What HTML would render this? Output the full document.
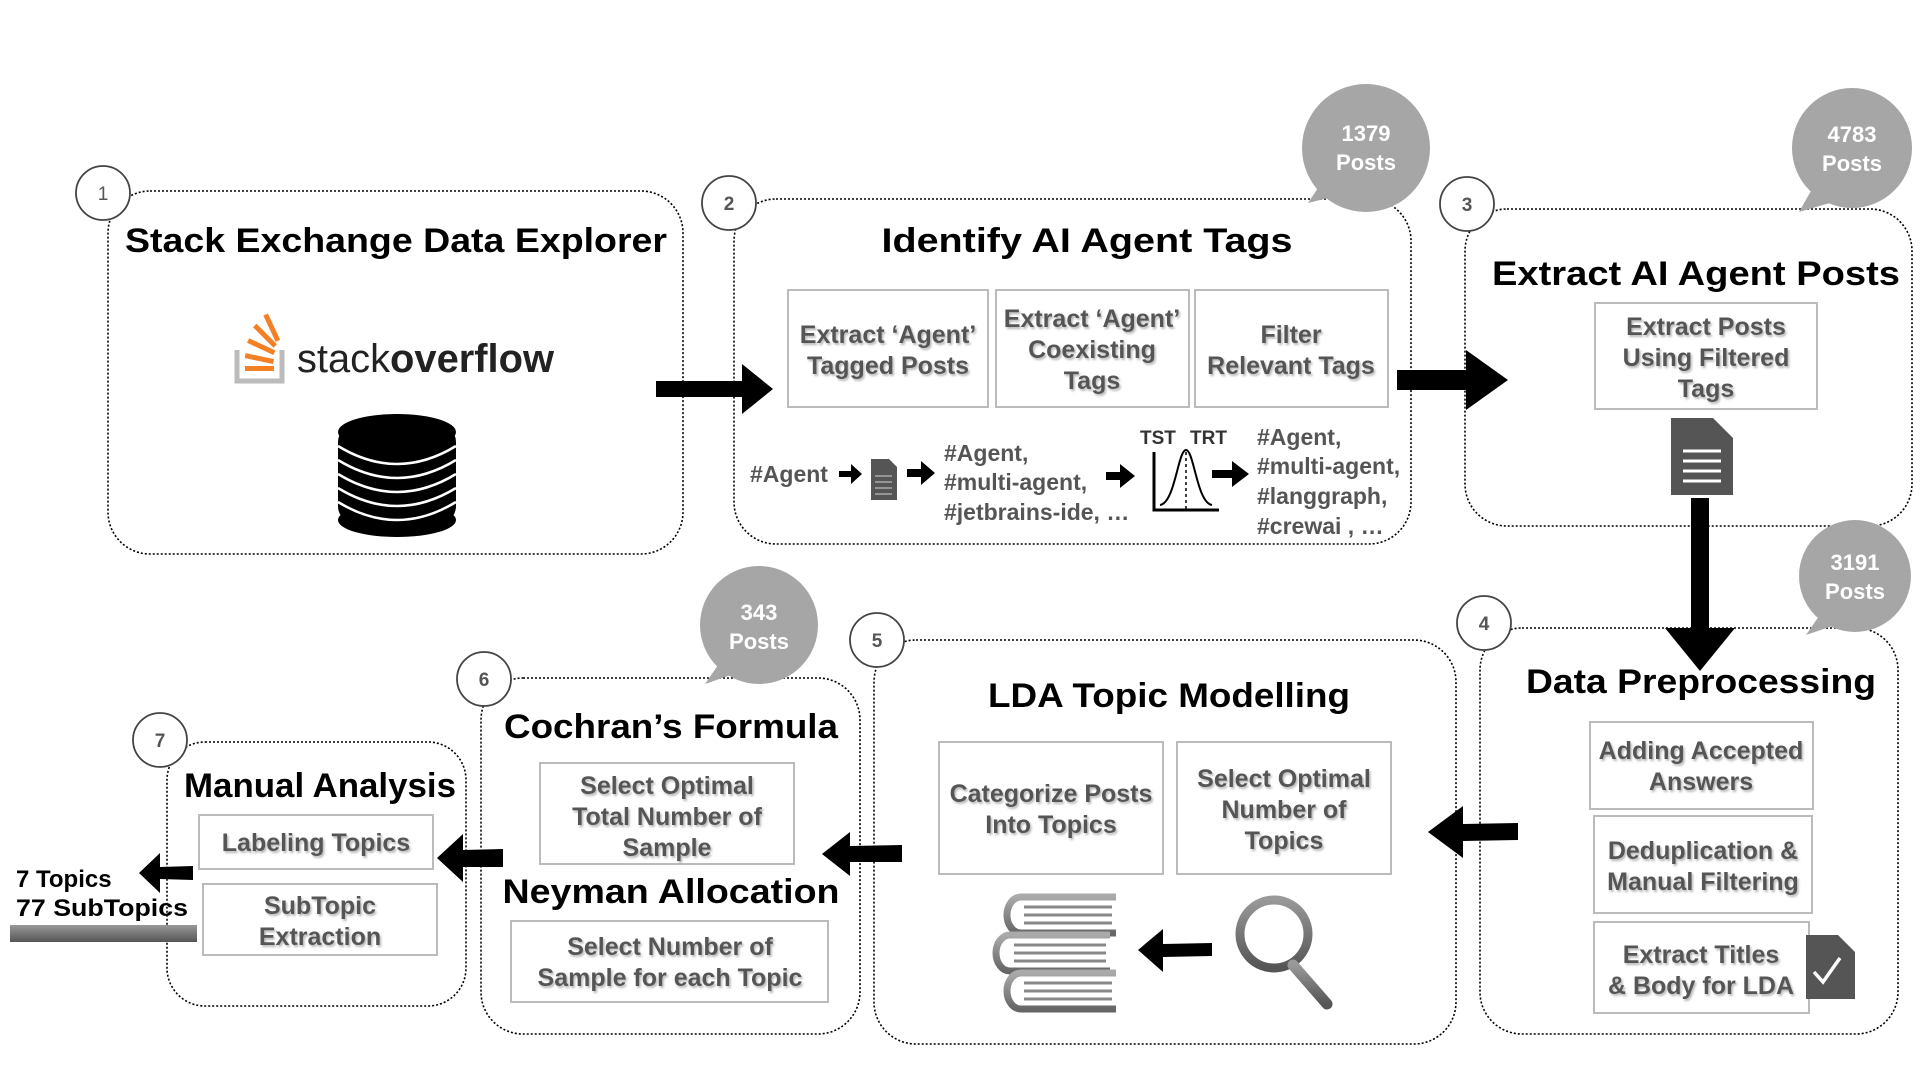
<!DOCTYPE html>
<html><head><meta charset="utf-8"><style>
html,body{margin:0;padding:0;background:#fff;}
svg{display:block}
.t{font-family:"Liberation Sans",sans-serif;font-weight:bold;fill:#000;font-size:34px;text-anchor:middle}
.s{font-family:"Liberation Sans",sans-serif;font-weight:bold;fill:#555;font-size:25px;text-anchor:middle;filter:url(#sh)}
.g{font-family:"Liberation Sans",sans-serif;font-weight:bold;fill:#555;font-size:23px}
.n{font-family:"Liberation Sans",sans-serif;font-weight:bold;fill:#555;font-size:19px;text-anchor:middle}
.b{font-family:"Liberation Sans",sans-serif;font-weight:bold;fill:#fff;font-size:22px;text-anchor:middle}
.box{fill:none;stroke:#000;stroke-width:1.6;stroke-dasharray:2 2}
.sb{fill:#fff;stroke:#bbb;stroke-width:2}
.c{fill:#fff;stroke:#444;stroke-width:1.8}
</style></head><body>
<svg width="1920" height="1080" viewBox="0 0 1920 1080" xmlns="http://www.w3.org/2000/svg">
<defs>
<filter id="sh" x="-10%" y="-10%" width="130%" height="140%"><feDropShadow dx="1.5" dy="2" stdDeviation="1" flood-color="#999" flood-opacity="0.7"/></filter>
<linearGradient id="gb" x1="0" y1="0" x2="0" y2="1"><stop offset="0" stop-color="#aaa"/><stop offset="1" stop-color="#666"/></linearGradient>
<linearGradient id="gm" x1="0" y1="0" x2="0" y2="1"><stop offset="0" stop-color="#999"/><stop offset="1" stop-color="#555"/></linearGradient>
</defs>

<!-- Box 1 -->
<rect class="box" x="108" y="191" width="575" height="363" rx="42"/>
<circle class="c" cx="103" cy="193" r="27"/><text class="n" x="103" y="200" style="font-weight:normal">1</text>
<text class="t" x="396" y="252" textLength="542" lengthAdjust="spacingAndGlyphs">Stack Exchange Data Explorer</text>
<g>
<path d="M237 350 v31 h45 v-31" fill="none" stroke="#bcbbbb" stroke-width="5"/>
<rect x="245" y="366" width="29" height="5" fill="#f48024"/>
<rect x="245" y="356" width="29" height="5" fill="#f48024" transform="rotate(12 259 358)"/>
<rect x="247" y="344" width="29" height="5" fill="#f48024" transform="rotate(25 261 346)"/>
<rect x="251" y="333" width="29" height="5" fill="#f48024" transform="rotate(45 265 335)"/>
<rect x="258" y="325" width="29" height="5" fill="#f48024" transform="rotate(65 272 327)"/>
<text x="297" y="372" font-family="Liberation Sans,sans-serif" font-size="40" fill="#222" textLength="257" lengthAdjust="spacingAndGlyphs">stack<tspan font-weight="bold">overflow</tspan></text>
</g>
<g>
<rect x="338" y="424" width="118" height="100" rx="18" fill="#000"/>
<ellipse cx="397" cy="432" rx="59" ry="18" fill="#000"/>
<ellipse cx="397" cy="520" rx="59" ry="17" fill="#000"/>
<g fill="none" stroke="#fff" stroke-width="2.5">
<path d="M338 446 q59 36 118 0"/><path d="M338 460 q59 36 118 0"/><path d="M338 474 q59 36 118 0"/><path d="M338 488 q59 36 118 0"/><path d="M338 502 q59 36 118 0"/>
</g>
</g>
<polygon points="656,381 742,381 742,364 773,389 742,414 742,397 656,397" fill="#000"/>

<!-- Box 2 -->
<rect class="box" x="734" y="199" width="677" height="345" rx="42"/>
<circle class="c" cx="729" cy="203" r="27"/><text class="n" x="729" y="210">2</text>
<text class="t" x="1087" y="252" textLength="411" lengthAdjust="spacingAndGlyphs">Identify AI Agent Tags</text>
<rect class="sb" x="788" y="290" width="200" height="117"/>
<rect class="sb" x="996" y="290" width="193" height="117"/>
<rect class="sb" x="1195" y="290" width="193" height="117"/>
<text class="s" x="888" y="343">Extract ‘Agent’</text><text class="s" x="888" y="374">Tagged Posts</text>
<text class="s" x="1092" y="327">Extract ‘Agent’</text><text class="s" x="1092" y="358">Coexisting</text><text class="s" x="1092" y="389">Tags</text>
<text class="s" x="1291" y="343">Filter</text><text class="s" x="1291" y="374">Relevant Tags</text>
<text class="g" x="750" y="482">#Agent</text>
<polygon points="839,471 851,471 851,464 862,474 851,484 851,477 839,477" fill="#000"/>
<path d="M871 459 h18 l8 8 v33 h-26z" fill="#555"/><g stroke="#aaa" stroke-width="1.5"><line x1="875" y1="476" x2="892" y2="476"/><line x1="875" y1="482" x2="892" y2="482"/><line x1="875" y1="488" x2="892" y2="488"/><line x1="875" y1="494" x2="892" y2="494"/></g>
<polygon points="907,469 921,469 921,461 935,473 921,485 921,477 907,477" fill="#000"/>
<text class="g" x="944" y="461">#Agent,</text>
<text class="g" x="944" y="490">#multi-agent,</text>
<text class="g" x="944" y="520">#jetbrains-ide, …</text>
<polygon points="1106,472 1120,472 1120,464 1135,476 1120,488 1120,480 1106,480" fill="#000"/>
<text class="g" x="1140" y="444" style="font-size:19px;fill:#333">TST</text><text class="g" x="1190" y="444" style="font-size:19px;fill:#333">TRT</text>
<path d="M1154 452 v58 h65" fill="none" stroke="#000" stroke-width="3"/>
<path d="M1160 505 c15 -2 18 -55 26 -55 c8 0 11 53 26 55" fill="none" stroke="#000" stroke-width="2"/>
<line x1="1186" y1="452" x2="1186" y2="509" stroke="#000" stroke-width="1.5" stroke-dasharray="3 3"/>
<polygon points="1212,470 1232,470 1232,461 1249,474 1232,487 1232,478 1212,478" fill="#000"/>
<text class="g" x="1257" y="445">#Agent,</text>
<text class="g" x="1257" y="474">#multi-agent,</text>
<text class="g" x="1257" y="504">#langgraph,</text>
<text class="g" x="1257" y="534">#crewai , …</text>
<polygon points="1330,170 1360,190 1308,203" fill="#a6a6a6"/>
<circle cx="1366" cy="148" r="64" fill="#a6a6a6"/>
<text class="b" x="1366" y="141">1379</text><text class="b" x="1366" y="170">Posts</text>
<polygon points="1397,370 1466,370 1466,350 1508,380 1466,410 1466,390 1397,390" fill="#000"/>

<!-- Box 3 -->
<rect class="box" x="1465" y="209" width="447" height="317" rx="42"/>
<circle class="c" cx="1467" cy="204" r="27"/><text class="n" x="1467" y="211">3</text>
<text class="t" x="1696" y="285" textLength="408" lengthAdjust="spacingAndGlyphs">Extract AI Agent Posts</text>
<rect class="sb" x="1595" y="303" width="222" height="106"/>
<text class="s" x="1706" y="335">Extract Posts</text><text class="s" x="1706" y="366">Using Filtered</text><text class="s" x="1706" y="397">Tags</text>
<path d="M1671 418 h42 l20 20 v57 h-62z" fill="#555"/><g stroke="#fff" stroke-width="3"><line x1="1683" y1="451" x2="1721" y2="451"/><line x1="1683" y1="461" x2="1721" y2="461"/><line x1="1683" y1="471" x2="1721" y2="471"/><line x1="1683" y1="481" x2="1721" y2="481"/></g>
<polygon points="1820,175 1840,200 1799,212" fill="#a6a6a6"/>
<circle cx="1852" cy="148" r="60" fill="#a6a6a6"/>
<text class="b" x="1852" y="142">4783</text><text class="b" x="1852" y="171">Posts</text>
<polygon points="1691,498 1709,498 1709,628 1735,628 1700,671 1665,628 1691,628" fill="#000"/>

<!-- Box 4 -->
<rect class="box" x="1480" y="628" width="418" height="406" rx="42"/>
<circle class="c" cx="1484" cy="623" r="27"/><text class="n" x="1484" y="630">4</text>
<text class="t" x="1701" y="693" textLength="350" lengthAdjust="spacingAndGlyphs">Data Preprocessing</text>
<rect class="sb" x="1590" y="722" width="223" height="87"/>
<text class="s" x="1701" y="759">Adding Accepted</text><text class="s" x="1701" y="790">Answers</text>
<rect class="sb" x="1594" y="816" width="218" height="97"/>
<text class="s" x="1703" y="859">Deduplication &amp;</text><text class="s" x="1703" y="890">Manual Filtering</text>
<rect class="sb" x="1594" y="922" width="215" height="91"/>
<text class="s" x="1701" y="963">Extract Titles</text><text class="s" x="1701" y="994">&amp; Body for LDA</text>
<path d="M1806 935 h32 l17 17 v47 h-49z" fill="#555"/><path d="M1814 972 l9 10 l17 -24" fill="none" stroke="#fff" stroke-width="3.5"/>
<polygon points="1828,603 1850,620 1806,635" fill="#a6a6a6"/>
<circle cx="1855" cy="576" r="56" fill="#a6a6a6"/>
<text class="b" x="1855" y="570">3191</text><text class="b" x="1855" y="599">Posts</text>
<polygon points="1518,823 1463,824 1463,806 1428,832 1463,858 1463,841 1518,840" fill="#000"/>

<!-- Box 5 -->
<rect class="box" x="874" y="640" width="582" height="404" rx="42"/>
<circle class="c" cx="877" cy="640" r="27"/><text class="n" x="877" y="647">5</text>
<text class="t" x="1169" y="707" textLength="362" lengthAdjust="spacingAndGlyphs">LDA Topic Modelling</text>
<rect class="sb" x="939" y="742" width="224" height="132"/>
<text class="s" x="1051" y="802">Categorize Posts</text><text class="s" x="1051" y="833">Into Topics</text>
<rect class="sb" x="1177" y="742" width="214" height="132"/>
<text class="s" x="1284" y="787">Select Optimal</text><text class="s" x="1284" y="818">Number of</text><text class="s" x="1284" y="849">Topics</text>
<g>
<path d="M1116 897 h-95 a14 18 0 0 0 0 36 h95" fill="none" stroke="url(#gb)" stroke-width="7"/>
<path d="M1110 935 h-100 a14 18 0 0 0 0 36 h100" fill="none" stroke="url(#gb)" stroke-width="7"/>
<path d="M1116 973 h-95 a14 18 0 0 0 0 36 h95" fill="none" stroke="url(#gb)" stroke-width="7"/>
<g stroke="#888" stroke-width="3"><line x1="1024" y1="907" x2="1112" y2="907"/><line x1="1024" y1="915" x2="1112" y2="915"/><line x1="1024" y1="923" x2="1112" y2="923"/>
<line x1="1014" y1="945" x2="1106" y2="945"/><line x1="1014" y1="953" x2="1106" y2="953"/><line x1="1014" y1="961" x2="1106" y2="961"/>
<line x1="1024" y1="983" x2="1112" y2="983"/><line x1="1024" y1="991" x2="1112" y2="991"/><line x1="1024" y1="999" x2="1112" y2="999"/></g>
</g>
<polygon points="1212,943 1163,944 1163,929 1138,950 1163,972 1163,957 1212,956" fill="#000"/>
<circle cx="1274" cy="934" r="34" fill="none" stroke="url(#gm)" stroke-width="9"/>
<line x1="1293" y1="965" x2="1327" y2="1004" stroke="url(#gm)" stroke-width="11" stroke-linecap="round"/>
<polygon points="902,845 850,846 850,832 822,854 850,876 850,862 902,862" fill="#000"/>

<!-- Box 6 -->
<rect class="box" x="481" y="678" width="379" height="356" rx="42"/>
<circle class="c" cx="484" cy="679" r="27"/><text class="n" x="484" y="686">6</text>
<text class="t" x="671" y="738" textLength="334" lengthAdjust="spacingAndGlyphs">Cochran’s Formula</text>
<rect class="sb" x="540" y="763" width="254" height="101"/>
<text class="s" x="667" y="794">Select Optimal</text><text class="s" x="667" y="825">Total Number of</text><text class="s" x="667" y="856">Sample</text>
<text class="t" x="671" y="903" textLength="337" lengthAdjust="spacingAndGlyphs">Neyman Allocation</text>
<rect class="sb" x="511" y="921" width="317" height="81"/>
<text class="s" x="670" y="955">Select Number of</text><text class="s" x="670" y="986">Sample for each Topic</text>
<polygon points="725,655 745,670 705,684" fill="#a6a6a6"/>
<circle cx="759" cy="625" r="59" fill="#a6a6a6"/>
<text class="b" x="759" y="620">343</text><text class="b" x="759" y="649">Posts</text>
<polygon points="503,849 463,850 463,834 437,858 463,882 463,867 503,867" fill="#000"/>

<!-- Box 7 -->
<rect class="box" x="167" y="742" width="299" height="264" rx="38"/>
<circle class="c" cx="160" cy="740" r="27"/><text class="n" x="160" y="747">7</text>
<text class="t" x="320" y="797" textLength="272" lengthAdjust="spacingAndGlyphs">Manual Analysis</text>
<rect class="sb" x="199" y="815" width="234" height="54"/>
<text class="s" x="316" y="851">Labeling Topics</text>
<rect class="sb" x="203" y="884" width="234" height="71"/>
<text class="s" x="320" y="914">SubTopic</text><text class="s" x="320" y="945">Extraction</text>
<polygon points="193,866 160,867 160,853 139,873 160,893 160,879 193,880" fill="#000"/>
<text x="16" y="887" font-family="Liberation Sans,sans-serif" font-weight="bold" font-size="24" fill="#000">7 Topics</text>
<text x="16" y="916" font-family="Liberation Sans,sans-serif" font-weight="bold" font-size="24" fill="#000" textLength="172" lengthAdjust="spacingAndGlyphs">77 SubTopics</text>
<rect x="10" y="925" width="187" height="17" fill="url(#gm)"/>
</svg>
</body></html>
